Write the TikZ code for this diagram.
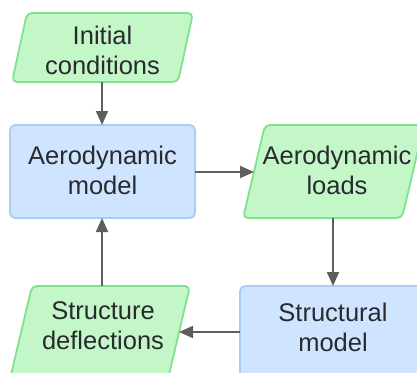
\documentclass[tikz,border=0pt]{standalone}
\usepackage{fontspec}
\setmainfont{Liberation Sans}
\usetikzlibrary{arrows.meta}
\definecolor{gfill}{RGB}{195,247,200}
\definecolor{gdraw}{RGB}{128,226,140}
\definecolor{bfill}{RGB}{207,228,255}
\definecolor{bdraw}{RGB}{170,205,248}
\definecolor{txt}{RGB}{40,42,46}
\definecolor{arr}{RGB}{94,94,94}
\tikzset{
  label/.style={font=\fontsize{25.5}{30}\selectfont, text=txt, align=center, inner sep=0pt},
  process/.style={rectangle, fill=bfill, draw=bdraw, line width=1.8pt, rounded corners=5pt, inner sep=0pt, outer sep=0pt, minimum width=185pt, minimum height=93pt},
  datashape/.style={fill=gfill, draw=gdraw, line width=1.8pt, rounded corners=5pt},
  flow/.style={draw=arr, line width=2pt, -{Triangle[length=14pt,width=12pt]}}
}
\begin{document}
\begin{tikzpicture}[x=1pt,y=-1pt]
\useasboundingbox (0,0) rectangle (417,372);
\clip (0,0) rectangle (417,372);
% Initial conditions
\draw[datashape] (27,13) -- (193,13) -- (178,82) -- (12,82) -- cycle;
\node[label] (ic) at (102.5,50) {Initial\\conditions};
\coordinate (icS) at (102,82);
% Aerodynamic model
\node[process] (am) at (102.5,171.5) {};
\node[label] (amt) at (102.5,170) {Aerodynamic\\model};
% Aerodynamic loads
\draw[datashape] (265,125) -- (424,125) -- (402,218) -- (243,218) -- cycle;
\node[label] (al) at (337,170) {Aerodynamic\\loads};
\coordinate (alW) at (254,172);
\coordinate (alS) at (333,218);
% Structural model
\node[process, minimum height=94pt] (sm) at (332.5,333) {};
\node[label] (smt) at (333,327.5) {Structural\\model};
% Structure deflections
\draw[datashape] (32,286) -- (190,286) -- (168,379) -- (10,379) -- cycle;
\node[label] (sd) at (103,325.5) {Structure\\deflections};
\coordinate (sdE) at (179,332);
\coordinate (sdN) at (102,286);
% connectors
\draw[flow] (icS) -- (am.north -| icS);
\draw[flow] (am.east |- alW) -- (alW);
\draw[flow] (alS) -- (sm.north -| alS);
\draw[flow] (sm.west |- sdE) -- (sdE);
\draw[flow] (sdN) -- (am.south -| sdN);
\end{tikzpicture}
\end{document}
